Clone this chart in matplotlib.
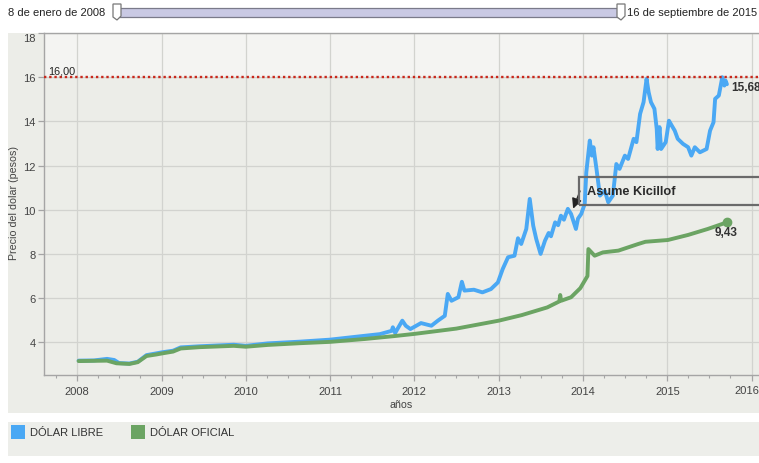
import matplotlib
matplotlib.use("Agg")
import matplotlib.pyplot as plt
import matplotlib.dates as mdates
from matplotlib.patches import Rectangle, Polygon
from matplotlib.ticker import FuncFormatter
import pandas as pd

plt.rcParams['font.family'] = ['Liberation Sans', 'DejaVu Sans']

# ---------------- data ----------------
libre_dates = ["2008-01-08", "2008-03-15", "2008-05-10", "2008-06-10", "2008-07-01", "2008-08-15",
               "2008-09-20", "2008-10-28", "2008-12-10", "2009-01-05", "2009-02-20", "2009-03-25",
               "2009-06-15", "2009-11-10", "2010-01-01", "2010-04-05", "2010-08-25", "2011-01-01",
               "2011-05-10", "2011-08-05", "2011-09-25", "2011-09-30", "2011-10-10", "2011-11-10",
               "2011-11-25", "2011-12-15", "2012-01-30", "2012-03-15", "2012-04-12", "2012-05-12",
               "2012-05-25", "2012-06-10", "2012-07-10", "2012-07-25", "2012-08-05", "2012-09-15",
               "2012-10-22", "2012-11-28", "2012-12-28", "2013-01-18", "2013-02-10", "2013-03-10",
               "2013-03-25", "2013-04-08", "2013-04-30", "2013-05-15", "2013-05-30", "2013-06-12",
               "2013-07-01", "2013-07-20", "2013-08-05", "2013-08-15", "2013-09-02", "2013-09-15",
               "2013-09-27", "2013-10-10", "2013-10-27", "2013-11-10",
               "2013-12-01", "2013-12-10", "2013-12-24", "2014-01-08", "2014-01-15", "2014-01-30", "2014-02-08",
               "2014-02-15", "2014-02-28", "2014-03-15", "2014-04-05", "2014-04-20", "2014-05-10",
               "2014-05-25", "2014-06-08", "2014-07-01", "2014-07-15", "2014-08-08", "2014-08-20",
               "2014-09-05", "2014-09-20", "2014-10-03", "2014-10-12", "2014-10-22", "2014-11-06",
               "2014-11-16", "2014-11-20", "2014-11-28", "2014-12-05", "2014-12-25", "2015-01-08",
               "2015-01-20", "2015-02-02", "2015-02-15", "2015-03-10", "2015-04-01", "2015-04-15",
               "2015-04-30", "2015-05-22", "2015-06-20", "2015-07-05", "2015-07-20", "2015-07-27",
               "2015-08-12", "2015-08-27", "2015-09-05", "2015-09-10", "2015-09-16"]
libre_values = [3.17, 3.18, 3.25, 3.20, 3.06, 3.04,
                3.12, 3.42, 3.50, 3.55, 3.62, 3.77,
                3.82, 3.89, 3.84, 3.95, 4.03, 4.12,
                4.27, 4.37, 4.52, 4.68, 4.42, 4.98,
                4.75, 4.60, 4.87, 4.75, 4.98, 5.20,
                6.19, 5.88, 6.04, 6.74, 6.34, 6.38,
                6.26, 6.41, 6.71, 7.32, 7.85, 7.92,
                8.71, 8.45, 9.13, 10.49, 9.28, 8.68,
                8.00, 8.60, 8.95, 8.80, 9.43, 9.30,
                9.73, 9.55, 10.04, 9.81,
                9.13, 9.60, 9.81, 10.26, 11.70, 13.13, 12.45,
                12.83, 11.85, 10.64, 10.86, 10.34, 10.64,
                12.07, 11.85, 12.45, 12.30, 13.21, 13.06,
                14.34, 14.87, 15.92, 15.32, 14.87, 14.57,
                13.66, 12.75, 13.74, 12.75, 13.06, 14.03,
                13.81, 13.58, 13.21, 12.98, 12.83, 12.45,
                12.83, 12.60, 12.75, 13.58, 13.96, 15.02,
                15.17, 16.00, 15.62, 15.85, 15.68]

oficial_dates = ["2008-01-08", "2008-05-10", "2008-06-20", "2008-08-15", "2008-09-20", "2008-10-28",
                 "2008-12-10", "2009-01-05", "2009-02-20", "2009-03-25", "2009-06-15", "2009-11-10",
                 "2010-01-01", "2010-04-05", "2010-08-25", "2011-01-01", "2011-06-01", "2011-10-05",
                 "2012-01-01", "2012-07-01", "2013-01-01", "2013-04-10", "2013-07-30", "2013-09-20",
                 "2013-09-24", "2013-09-28", "2013-11-10", "2013-12-20", "2014-01-20", "2014-01-24",
                 "2014-02-20", "2014-03-28", "2014-06-03", "2014-08-28", "2014-09-28", "2015-01-03",
                 "2015-04-01", "2015-06-25", "2015-09-16"]
oficial_values = [3.15, 3.17, 3.05, 3.02, 3.10, 3.38,
                  3.45, 3.50, 3.58, 3.72, 3.78, 3.84,
                  3.80, 3.88, 3.96, 4.02, 4.15, 4.28,
                  4.38, 4.62, 4.98, 5.23, 5.58, 5.85,
                  6.14, 5.88, 6.04, 6.45, 7.00, 8.22,
                  7.92, 8.07, 8.15, 8.45, 8.55, 8.63,
                  8.86, 9.13, 9.43]

series_names = ["DÓLAR LIBRE", "DÓLAR OFICIAL"]
ref_level = 16.0
ref_label = "16,00"
event_date = "2013-11-19"
event_value = 10.05
event_label = "Asume Kicillof"
range_start = "8 de enero de 2008"
range_end = "16 de septiembre de 2015"
y_ticks = [4, 6, 8, 10, 12, 14, 16, 18]
last_year = 2016

# ---------------- style ----------------
W, H = 759, 464
BLUE = "#4aa8f4"
GREEN = "#6ba463"
PANEL = "#ecede8"
TXT = "#333333"


def P(x, y):
    return (x / W, 1 - y / H)


fig = plt.figure(figsize=(W / 100, H / 100), dpi=100)
fig.patch.set_facecolor("white")

# chart panel background
x0, y0 = P(8, 414)
fig.patches.append(Rectangle((x0, y0), (W - 8) / W, (414 - 34) / H, transform=fig.transFigure,
                             facecolor=PANEL, edgecolor="none", zorder=-5))
# legend panel
x0, y0 = P(8, 457)
fig.patches.append(Rectangle((x0, y0), (W - 8) / W, (457 - 423) / H, transform=fig.transFigure,
                             facecolor="#edeeea", edgecolor="none", zorder=-5))

ax = fig.add_axes([44 / W, 1 - 376 / H, (W - 44) / W, (376 - 34) / H])
ax.set_zorder(1)
ax.set_facecolor(PANEL)

ld = pd.to_datetime(libre_dates)
od = pd.to_datetime(oficial_dates)

ax.axhspan(ref_level, 18, color="#f4f4f2", zorder=0, lw=0)

ax.plot(ld, libre_values, color=BLUE, lw=2.8, solid_joinstyle="round", solid_capstyle="round", zorder=3)
ax.plot(od, oficial_values, color=GREEN, lw=2.8, solid_joinstyle="round", solid_capstyle="round", zorder=4)
ax.plot(od[-1:], oficial_values[-1:], "o", color=GREEN, ms=6, zorder=5)

ax.axhline(ref_level, color="#c8281c", lw=1.7, ls=(0, (1, 1.2)), zorder=6)

ax.set_xlim(pd.Timestamp("2007-08-11"), pd.Timestamp("2016-02-02"))
ax.set_ylim(2.52, 18)


def year_fmt(v, pos):
    y = mdates.num2date(v).year
    return "" if y == last_year else str(y)


ax.xaxis.set_major_locator(mdates.YearLocator())
ax.xaxis.set_major_formatter(FuncFormatter(year_fmt))
ax.xaxis.set_minor_locator(mdates.MonthLocator(bymonth=[4, 7, 10]))
ax.set_yticks(y_ticks)
ax.set_yticklabels([str(v) for v in y_ticks])

# last year label nudged left so it stays inside the canvas
ax.annotate(str(last_year), xy=(pd.Timestamp(f"{last_year}-01-01"), 0),
            xycoords=("data", "axes fraction"), xytext=(-5, -15), textcoords="offset pixels",
            ha="center", va="center", fontsize=8, color="#444444", annotation_clip=False)

ax.grid(True, which="major", color="#d2d3cf", lw=0.9, zorder=1)
ax.set_axisbelow(True)

for s in ["left", "bottom", "top"]:
    ax.spines[s].set_color("#a5a5a5")
    ax.spines[s].set_linewidth(1.0)
ax.spines["right"].set_visible(False)

ax.tick_params(axis="both", which="major", colors="#a5a5a5", labelcolor="#444444", labelsize=8,
               length=4, width=0.9, pad=2)
ax.tick_params(axis="x", which="minor", colors="#a5a5a5", length=2.5, width=0.8)
ax.tick_params(axis="x", which="major", pad=4)

for lab in ax.get_yticklabels():
    if lab.get_text() == "18":
        lab.set_va("top")

fig.text(*P(14.5, 203), "Precio del dolar (pesos)", rotation=90, ha="center", va="center",
         fontsize=7.7, color="#444444")
fig.text(*P(401, 405), "años", ha="center", va="center", fontsize=7.7, color="#444444")

# reference label
ax.annotate(ref_label, xy=(0, ref_level), xycoords=("axes fraction", "data"),
            xytext=(4, 2), textcoords="offset pixels", ha="left", va="bottom",
            fontsize=7.8, color="#222222", zorder=7)

# end labels
ax.annotate(f"{libre_values[-1]:.2f}".replace(".", ","), xy=(ld[-1], libre_values[-1]),
            xytext=(4, -3), textcoords="offset pixels", ha="left", va="center",
            fontsize=8.5, fontweight="bold", color=TXT, zorder=7)
ax.annotate(f"{oficial_values[-1]:.2f}".replace(".", ","), xy=(od[-1], oficial_values[-1]),
            xytext=(-1, -10), textcoords="offset pixels", ha="center", va="center",
            fontsize=8.5, fontweight="bold", color=TXT, zorder=7)

# event annotation
bx, by = P(579, 206)
fig.patches.append(Rectangle((bx, by), 300 / W, 28 / H, transform=fig.transFigure,
                             facecolor="none", edgecolor="#6a6a6a", lw=1.6, zorder=10))
fig.text(*P(587, 192), event_label, ha="left", va="center", fontsize=9.2, fontweight="bold",
         color="#2a2a2a", zorder=11)
ax.annotate("", xy=(pd.Timestamp(event_date), event_value), xycoords="data",
            xytext=P(580, 192), textcoords="figure fraction",
            arrowprops=dict(arrowstyle="-|>,head_length=0.6,head_width=0.3", color="#222222",
                            lw=1.0, shrinkA=0, shrinkB=0), zorder=11)

# range slider
fig.text(*P(8, 13), range_start, ha="left", va="center", fontsize=8, color="#222222")
fig.text(*P(757, 13), range_end, ha="right", va="center", fontsize=8, color="#222222")
sx, sy = P(118, 18)
fig.patches.append(Rectangle((sx, sy), (622 - 118) / W, 9 / H, transform=fig.transFigure,
                             facecolor="#c9c9e4", edgecolor="#7a7a8a", lw=0.9, zorder=2))
for hx in [113, 617]:
    pts = [P(hx, 5), P(hx + 8, 5), P(hx + 8, 17), P(hx + 4, 21), P(hx, 18)]
    fig.patches.append(Polygon(pts, closed=True, transform=fig.transFigure,
                               facecolor="white", edgecolor="#777777", lw=0.9, zorder=3))

# legend
for (lx, name, col) in [(11, series_names[0], BLUE), (131, series_names[1], GREEN)]:
    qx, qy = P(lx, 440)
    fig.patches.append(Rectangle((qx, qy), 14 / W, 14 / H, transform=fig.transFigure,
                                 facecolor=col, edgecolor="none", zorder=3))
    fig.text(*P(lx + 19, 433), name, ha="left", va="center", fontsize=8, color=TXT)

fig.savefig("out.png", dpi=100)
